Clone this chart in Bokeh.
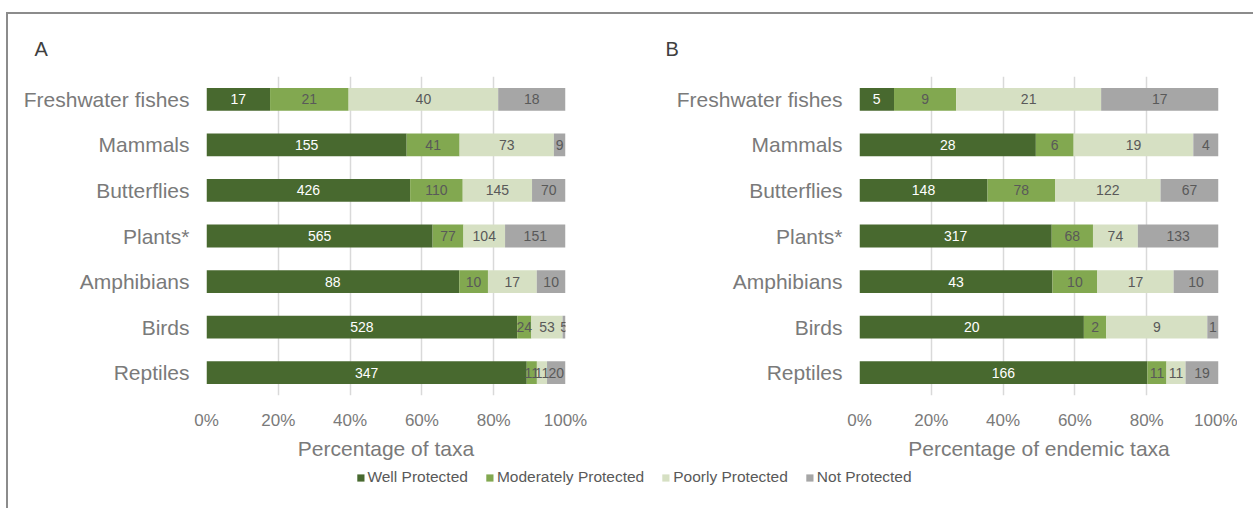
from bokeh.plotting import figure
from bokeh.models import (ColumnDataSource, FactorRange, Range1d, FixedTicker,
                          NumeralTickFormatter, Legend, LegendItem)
from bokeh.layouts import column, row
from bokeh.embed import file_html
from bokeh.resources import INLINE
from bokeh.core.properties import value

# ---------------- data ----------------
categories = ["Freshwater fishes", "Mammals", "Butterflies", "Plants*",
              "Amphibians", "Birds", "Reptiles"]
statuses = ["Well Protected", "Moderately Protected", "Poorly Protected", "Not Protected"]

# Panel A: all taxa
a_well = [17, 155, 426, 565, 88, 528, 347]
a_moderate = [21, 41, 110, 77, 10, 24, 11]
a_poor = [40, 73, 145, 104, 17, 53, 11]
a_not = [18, 9, 70, 151, 10, 5, 20]

# Panel B: endemic taxa
b_well = [5, 28, 148, 317, 43, 20, 166]
b_moderate = [9, 6, 78, 68, 10, 2, 11]
b_poor = [21, 19, 122, 74, 17, 9, 11]
b_not = [17, 4, 67, 133, 10, 1, 19]

x_ticks = [0, 0.2, 0.4, 0.6, 0.8, 1.0]

# ---------------- style ----------------
colors = ["#48692F", "#82A850", "#D6E0C3", "#A6A6A6"]
label_colors = ["#FFFFFF", "#595959", "#595959", "#595959"]
FONT = "Liberation Sans"
AXIS_GRAY = "#7A7A7A"


def make_panel(letter, counts, xlabel, left, right):
    keys = ["well", "moderate", "poor", "not"]
    totals = [sum(v) for v in zip(*counts)]
    data = {"cat": categories}
    for k, vals in zip(keys, counts):
        data[k] = [v / t for v, t in zip(vals, totals)]
    src = ColumnDataSource(data)

    p = figure(y_range=FactorRange(*categories[::-1]), x_range=Range1d(0, 1),
               frame_width=359, frame_height=319,
               output_backend="svg", toolbar_location=None,
               min_border_left=left, min_border_right=right,
               min_border_top=62, min_border_bottom=60)
    p.y_range.range_padding = 0
    p.outline_line_color = None
    p.background_fill_color = "white"

    p.hbar_stack(keys, y="cat", height=0.5, fill_color=colors, line_color=None, source=src)

    # data labels centred in each segment
    starts = [0.0] * len(categories)
    for k, vals, tc in zip(keys, counts, label_colors):
        fr = data[k]
        mids = [s + f / 2 for s, f in zip(starts, fr)]
        starts = [s + f for s, f in zip(starts, fr)]
        lsrc = ColumnDataSource(dict(x=mids, cat=categories, t=[str(v) for v in vals]))
        p.text(x="x", y="cat", text="t", source=lsrc, text_align="center",
               text_baseline="middle", text_color=tc, text_font=value(FONT),
               text_font_size="14px")

    p.xaxis.ticker = FixedTicker(ticks=x_ticks)
    p.xaxis.formatter = NumeralTickFormatter(format="0%")
    p.xaxis.axis_line_color = None
    p.xaxis.major_tick_line_color = None
    p.xaxis.minor_tick_line_color = None
    p.xaxis.major_tick_out = 6
    p.xaxis.major_label_standoff = 9
    p.xaxis.major_label_text_font = FONT
    p.xaxis.major_label_text_font_size = "17px"
    p.xaxis.major_label_text_color = AXIS_GRAY
    p.xaxis.axis_label = xlabel
    p.xaxis.axis_label_text_font = FONT
    p.xaxis.axis_label_text_font_size = "21px"
    p.xaxis.axis_label_text_font_style = "normal"
    p.xaxis.axis_label_text_color = AXIS_GRAY
    p.xaxis.axis_label_standoff = 4

    p.yaxis.axis_line_color = None
    p.yaxis.major_tick_line_color = None
    p.yaxis.minor_tick_line_color = None
    p.yaxis.major_tick_out = 0
    p.yaxis.major_tick_in = 0
    p.yaxis.major_label_standoff = 17
    p.yaxis.major_label_text_font = FONT
    p.yaxis.major_label_text_font_size = "21px"
    p.yaxis.major_label_text_color = AXIS_GRAY

    p.ygrid.grid_line_color = None
    p.xgrid.grid_line_color = "#D9D9D9"
    p.xgrid.grid_line_width = 1.5

    p.title.text = letter
    p.title.align = "left"
    p.title.offset = -(left - 26)
    p.title.text_font = FONT
    p.title.text_font_size = "20px"
    p.title.text_font_style = "normal"
    p.title.text_color = "#404040"
    p.title.standoff = 34
    return p


pA = make_panel("A", [a_well, a_moderate, a_poor, a_not], "Percentage of taxa", 198, 74)
pB = make_panel("B", [b_well, b_moderate, b_poor, b_not], "Percentage of endemic taxa", 220, 19)

lf = figure(width=1229, height=30, x_range=Range1d(0, 1), y_range=Range1d(0, 1),
            x_axis_location=None, y_axis_location=None, output_backend="svg",
            toolbar_location=None, min_border=0, min_border_left=22)
lf.outline_line_color = None
lf.xgrid.visible = False
lf.ygrid.visible = False
items = []
for s, c in zip(statuses, colors):
    # zero-width bar: only its legend swatch is drawn
    r = lf.hbar(y=[0.5], left=[0], right=[0], height=0.5, fill_color=c, line_color=None)
    items.append(LegendItem(label=s, renderers=[r]))
legend = Legend(items=items, orientation="horizontal", location="center",
                glyph_width=9, glyph_height=9, label_standoff=3, spacing=17,
                padding=0, margin=0, border_line_color=None, background_fill_alpha=0,
                label_text_font=FONT, label_text_font_size="15.5px",
                label_text_color="#595959")
lf.add_layout(legend, "center")

layout = column(row(pA, pB), lf,
                styles={"border-top": "2px solid #8C8C8C",
                        "border-left": "2px solid #8C8C8C",
                        "margin-top": "12px", "margin-left": "6px",
                        "padding-bottom": "30px", "padding-right": "30px"})

open("out.html", "w").write(file_html(layout, INLINE))
